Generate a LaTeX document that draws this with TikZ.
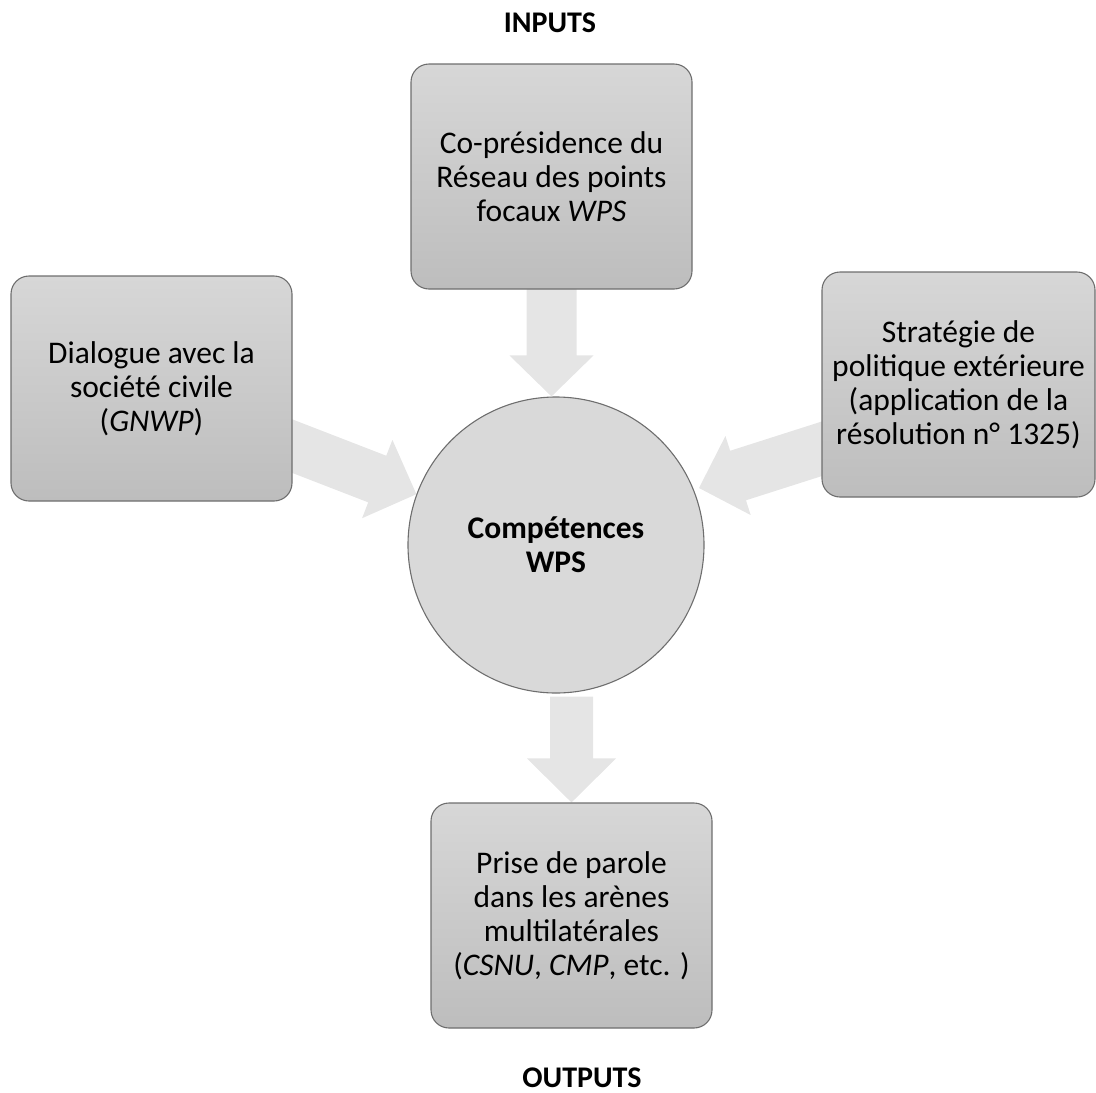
\documentclass[tikz,border=0pt]{standalone}
\usepackage{fontspec}
\setmainfont{Carlito}
\usetikzlibrary{calc}

\definecolor{boxtop}{HTML}{D7D7D7}
\definecolor{boxbot}{HTML}{BDBDBD}
\definecolor{boxline}{HTML}{6E6E6E}
\definecolor{discfill}{HTML}{D9D9D9}
\definecolor{flowfill}{HTML}{E5E5E5}

\pgfdeclarelayer{background}
\pgfsetlayers{background,main}

\tikzset{
  lbl/.style={font=\fontsize{31.5}{34}\selectfont, align=center},
  inbox/.style={lbl, rectangle, rounded corners=18pt, draw=boxline,
    line width=1.1pt, top color=boxtop, bottom color=boxbot,
    minimum width=281pt, minimum height=225pt, inner sep=0pt},
  hub/.style={circle, draw=boxline, line width=1.1pt, fill=discfill,
    minimum size=296pt, inner sep=0pt, align=center,
    font=\fontsize{31.5}{34}\selectfont\bfseries},
  heading/.style={inner sep=0pt, font=\fontsize{30}{34}\selectfont\bfseries},
}

% block arrow: #1 start, #2 tip, #3 shaft half-width, #4 head half-width, #5 head length
\newcommand{\flowarrow}[5]{%
  \coordinate (fa-base) at ($(#2)!#5!(#1)$);
  \fill[flowfill]
    ($(#1)!#3!90:(#2)$) -- ($(fa-base)!#3!90:(#2)$) --
    ($(fa-base)!#4!90:(#2)$) -- (#2) --
    ($(fa-base)!#4!-90:(#2)$) -- ($(fa-base)!#3!-90:(#2)$) --
    ($(#1)!#3!-90:(#2)$) -- cycle;
}

\begin{document}
\begin{tikzpicture}[x=1pt, y=-1pt]
  \useasboundingbox (0,0) rectangle (1096,1093);

  % boxes and hub
  \node[inbox] (top) at (551.5,176.5)
    {Co-présidence du\\Réseau des points\\focaux \textit{WPS}};
  \node[inbox] (left) at (151.5,388.5)
    {Dialogue avec la\\société civile\\(\textit{GNWP})};
  \node[inbox, minimum width=273pt] (right) at (958.5,384.5)
    {Stratégie de\\politique extérieure\\(application de la\\résolution n° 1325)};
  \node[inbox] (bottom) at (571.5,915.5)
    {Prise de parole\\dans les arènes\\multilatérales\\(\textit{CSNU}, \textit{CMP}, etc. )};
  \node[hub] (core) at (556,545) {Compétences\\WPS};

  \node[heading] (inputs) at (550,23) {INPUTS};
  \node[heading] (outputs) at (582,1078) {OUTPUTS};

  % flow arrows, behind the boxes
  \coordinate (topstart) at ($(top.south)+(0,-10)$);
  \coordinate (toptip) at (top.south |- core.north);
  \coordinate (leftstart) at ($(left.east)+(-20,50)$);
  \coordinate (lefttip) at (core.160);
  \coordinate (rightstart) at ($(right.west)+(20,58)$);
  \coordinate (righttip) at (699,488);
  \coordinate (botstart) at ($(bottom.north |- core.south)+(0,3)$);
  \begin{pgfonlayer}{background}
    \flowarrow{topstart}{toptip}{25pt}{42pt}{41pt}
    \flowarrow{leftstart}{lefttip}{25pt}{42pt}{42pt}
    \flowarrow{rightstart}{righttip}{26pt}{41.5pt}{41pt}
    \flowarrow{botstart}{bottom.north}{21.5pt}{44.5pt}{44pt}
  \end{pgfonlayer}
\end{tikzpicture}
\end{document}
